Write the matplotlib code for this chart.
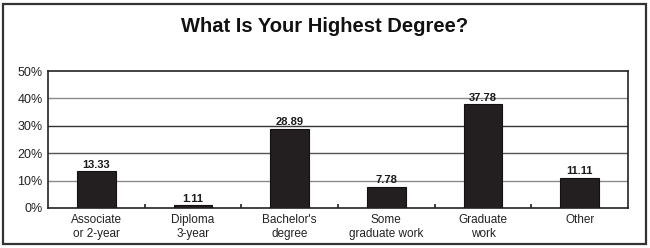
import matplotlib
matplotlib.use("Agg")
import matplotlib.pyplot as plt
from matplotlib.patches import Rectangle
import numpy as np

categories = ["Associate\nor 2-year", "Diploma\n3-year", "Bachelor's\ndegree",
              "Some\ngraduate work", "Graduate\nwork", "Other"]
values = [13.33, 1.11, 28.89, 7.78, 37.78, 11.11]
y_ticks = [0, 10, 20, 30, 40, 50]
y_labels = ["0%", "10%", "20%", "30%", "40%", "50%"]

plt.rcParams["font.family"] = ["Liberation Sans", "DejaVu Sans"]

fig = plt.figure(figsize=(6.5, 2.48), dpi=100)
ax = fig.add_axes([48 / 650, 1 - 208 / 248, 580 / 650, 137 / 248])

# 外框
fig.patches.append(Rectangle((3 / 650, 4 / 248), 643 / 650, 240 / 248,
                             transform=fig.transFigure, fill=False,
                             edgecolor="#333333", linewidth=1.6))

fig.text(0.5, 1 - 27 / 248, "What Is Your Highest Degree?", ha="center", va="center",
         fontsize=14.5, fontweight="bold", color="#111111")

x = np.arange(len(categories))
ax.bar(x, values, width=0.4, color="#231f20", edgecolor="#111111", linewidth=0.8, zorder=3)
for xi, v in zip(x, values):
    ax.text(xi, v + 0.5, f"{v:.2f}", ha="center", va="bottom", fontsize=8,
            fontweight="bold", color="#1a1a1a")

# 网格线
grid_colors = {10: "#8a8a8a", 20: "#555555", 30: "#333333", 40: "#8a8a8a"}
for yv, c in grid_colors.items():
    ax.axhline(yv, color=c, linewidth=1.0, zorder=1)

ax.set_xlim(-0.5, len(categories) - 0.5)
ax.set_ylim(0, 50)
ax.set_yticks(y_ticks)
ax.set_yticklabels(y_labels, fontsize=9, color="#222222")
ax.tick_params(axis="y", length=0, pad=4)

ax.set_xticks(x)
ax.set_xticklabels(categories, fontsize=8.5, color="#222222", linespacing=1.3)
ax.tick_params(axis="x", length=0, pad=4)

# 分类间的小刻度
ax.set_xticks(x[:-1] + 0.5, minor=True)
ax.tick_params(axis="x", which="minor", direction="in", length=3, width=1.2, color="#222222")

for s in ax.spines.values():
    s.set_color("#222222")
    s.set_linewidth(1.2)

fig.savefig("out.png", dpi=100)
